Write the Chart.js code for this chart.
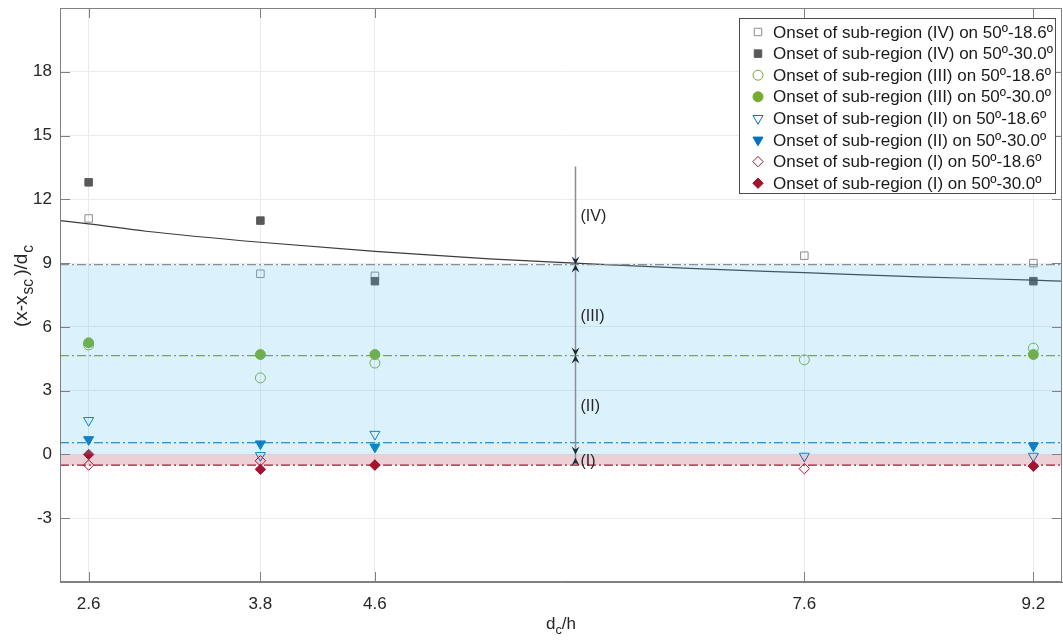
<!DOCTYPE html>
<html>
<head>
<meta charset="utf-8">
<script src="https://cdn.jsdelivr.net/npm/chart.js@4.4.0/dist/chart.umd.min.js"></script>
<style>
  html, body { margin: 0; padding: 0; background: #fff; }
</style>
</head>
<body>
<canvas id="grafico" width="1063" height="641"></canvas>
<script>
const xTicks = [2.6, 3.8, 4.6, 7.6, 9.2];
const yTicks = [-3, 0, 3, 6, 9, 12, 15, 18];
const xRange = [2.4, 9.4];
const yRange = [-6, 21];

// 50º-18.6º has a run at every d_c/h, 50º-30.0º has none at 7.6
const xOpen = [2.6, 3.8, 4.6, 7.6, 9.2];
const xFilled = [2.6, 3.8, 4.6, 9.2];

const iv186 = [11.1, 8.5, 8.4, 9.35, 9.0];
const iv300 = [12.8, 11.0, 8.15, 8.15];
const iii186 = [5.15, 3.6, 4.3, 4.45, 5.0];
const iii300 = [5.25, 4.7, 4.7, 4.7];
const ii186 = [1.6, -0.05, 0.95, -0.08, -0.08];
const ii300 = [0.7, 0.5, 0.35, 0.4];
const i186 = [-0.5, -0.3, -0.5, -0.67, -0.55];
const i300 = [0.0, -0.7, -0.5, -0.55];

// boundary curve of sub-region (IV)
const curveX = [2.4, 2.6, 3.0, 3.8, 4.6, 5.4, 6.0, 6.8, 7.6, 8.4, 9.2, 9.4];
const curveY = [11.0, 10.85, 10.5, 9.98, 9.55, 9.2, 9.0, 8.75, 8.55, 8.35, 8.2, 8.15];

// mean onset levels (dash-dot lines)
const levelIV = 8.93, levelIII = 4.65, levelII = 0.55, levelI = -0.5;

// arrow annotation
const arrowX = 6.0;
const arrowTop = 13.55;
const arrowDownTips = [8.93, 4.65, 0.0];
const arrowUpTips = [8.93, 4.65, -0.15];
const regionLabels = ["(IV)", "(III)", "(II)", "(I)"];
const regionLabelY = [11.2, 6.5, 2.25, -0.33];

const FONT = "'Liberation Sans', Arial, sans-serif";

const series = [
  { label: "Onset of sub-region (IV) on 50º-18.6º", xs: xOpen, ys: iv186, style: "rect", r: 5.3, color: "#8c8c8c", filled: false },
  { label: "Onset of sub-region (IV) on 50º-30.0º", xs: xFilled, ys: iv300, style: "rect", r: 5.3, color: "#595959", filled: true },
  { label: "Onset of sub-region (III) on 50º-18.6º", xs: xOpen, ys: iii186, style: "circle", r: 5, color: "#77ac30", filled: false },
  { label: "Onset of sub-region (III) on 50º-30.0º", xs: xFilled, ys: iii300, style: "circle", r: 5, color: "#77ac30", filled: true },
  { label: "Onset of sub-region (II) on 50º-18.6º", xs: xOpen, ys: ii186, style: "triangle", r: 5.8, rot: 180, color: "#0072bd", filled: false },
  { label: "Onset of sub-region (II) on 50º-30.0º", xs: xFilled, ys: ii300, style: "triangle", r: 5.8, rot: 180, color: "#0072bd", filled: true },
  { label: "Onset of sub-region (I) on 50º-18.6º", xs: xOpen, ys: i186, style: "rectRot", r: 5.2, color: "#a2142f", filled: false },
  { label: "Onset of sub-region (I) on 50º-30.0º", xs: xFilled, ys: i300, style: "rectRot", r: 5.2, color: "#a2142f", filled: true }
];

// markers should not push the plot box in from the canvas edge
if (Chart.ScatterController) Chart.ScatterController.prototype.getMaxOverflow = () => 0;

const pts = (xs, ys) => xs.map((x, i) => ({ x: x, y: ys[i] }));
const hline = v => [{ x: xRange[0], y: v }, { x: xRange[1], y: v }];

const datasets = series.map(s => ({
  label: s.label,
  data: pts(s.xs, s.ys),
  showLine: false,
  pointStyle: s.style,
  pointRotation: s.rot || 0,
  pointRadius: s.r,
  pointBackgroundColor: s.filled ? s.color : "rgba(0,0,0,0)",
  pointBorderColor: s.color,
  pointBorderWidth: 1,
  order: s.filled ? 5 : 6
}));

datasets.push({
  data: pts(curveX, curveY),
  showLine: true, pointRadius: 0,
  borderColor: "#3c3c3c", borderWidth: 1.2,
  cubicInterpolationMode: "monotone",
  order: 4
});

// shaded bands drawn over the markers, like the reference
datasets.push({
  data: hline(levelIV), showLine: true, pointRadius: 0,
  borderColor: "rgba(0,0,0,0)", fill: { value: 0 },
  backgroundColor: "rgba(77,190,238,0.2)", order: 3
});
datasets.push({
  data: hline(levelI), showLine: true, pointRadius: 0,
  borderColor: "rgba(0,0,0,0)", fill: { value: 0 },
  backgroundColor: "rgba(162,20,47,0.2)", order: 3
});

[[levelIV, "#8f8f8f"], [levelIII, "#77ac30"], [levelII, "#0072bd"], [levelI, "#a2142f"]].forEach(l => {
  datasets.push({
    data: hline(l[0]), showLine: true, pointRadius: 0,
    borderColor: l[1], borderWidth: 1.2, borderDash: [9, 3, 2, 3],
    fill: false, order: 2
  });
});

function marker(ctx, s, x, y) {
  const r = s.r;
  ctx.beginPath();
  if (s.style === "rect") {
    const h = r * Math.SQRT1_2;
    ctx.rect(x - h, y - h, 2 * h, 2 * h);
  } else if (s.style === "circle") {
    ctx.arc(x, y, r, 0, Math.PI * 2);
  } else if (s.style === "triangle") {
    const w = r * Math.sin(Math.PI / 3);
    ctx.moveTo(x, y + r);
    ctx.lineTo(x - w, y - r / 2);
    ctx.lineTo(x + w, y - r / 2);
    ctx.closePath();
  } else {
    ctx.moveTo(x, y - r);
    ctx.lineTo(x + r, y);
    ctx.lineTo(x, y + r);
    ctx.lineTo(x - r, y);
    ctx.closePath();
  }
  ctx.lineWidth = 1;
  ctx.strokeStyle = s.color;
  if (s.filled) { ctx.fillStyle = s.color; ctx.fill(); }
  ctx.stroke();
}

// parts: [text, isSubscript, gapAfter]
function subText(ctx, parts, x, y, size, subScale) {
  const fontOf = p => (p[1] ? size * subScale : size) + "px " + FONT;
  let total = 0;
  parts.forEach(p => {
    ctx.font = fontOf(p);
    total += ctx.measureText(p[0]).width + (p[2] || 0);
  });
  let cx = x - total / 2;
  parts.forEach(p => {
    ctx.font = fontOf(p);
    ctx.fillText(p[0], cx, p[1] ? y + size * 0.32 : y);
    cx += ctx.measureText(p[0]).width + (p[2] || 0);
  });
}

function arrowHead(ctx, x, yTip, dir) {
  const L = 8, W = 4, notch = 3;
  ctx.beginPath();
  ctx.moveTo(x, yTip);
  ctx.lineTo(x - W, yTip - dir * L);
  ctx.lineTo(x, yTip - dir * (L - notch));
  ctx.lineTo(x + W, yTip - dir * L);
  ctx.closePath();
  ctx.fill();
}

const extras = {
  id: "extras",
  afterDraw(chart) {
    const ctx = chart.ctx, a = chart.chartArea;
    const sx = chart.scales.x, sy = chart.scales.y;
    ctx.save();

    // box and inward ticks
    ctx.strokeStyle = "#808080";
    ctx.lineWidth = 1;
    ctx.strokeRect(a.left + 0.5, a.top + 0.5, a.right - a.left - 1, a.bottom - a.top - 1);
    ctx.beginPath();
    xTicks.forEach(v => {
      const px = Math.round(sx.getPixelForValue(v)) + 0.5;
      ctx.moveTo(px, a.bottom); ctx.lineTo(px, a.bottom - 10);
      ctx.moveTo(px, a.top); ctx.lineTo(px, a.top + 10);
    });
    yTicks.forEach(v => {
      const py = Math.round(sy.getPixelForValue(v)) + 0.5;
      ctx.moveTo(a.left, py); ctx.lineTo(a.left + 10, py);
      ctx.moveTo(a.right, py); ctx.lineTo(a.right - 10, py);
    });
    ctx.stroke();

    // arrow
    const ax = Math.round(sx.getPixelForValue(arrowX)) + 0.5;
    ctx.strokeStyle = "#8a8f94";
    ctx.lineWidth = 1.5;
    ctx.beginPath();
    ctx.moveTo(ax, sy.getPixelForValue(arrowTop));
    ctx.lineTo(ax, sy.getPixelForValue(levelI));
    ctx.stroke();
    ctx.fillStyle = "#1c2a33";
    arrowDownTips.forEach(v => arrowHead(ctx, ax, sy.getPixelForValue(v), 1));
    arrowUpTips.forEach(v => arrowHead(ctx, ax, sy.getPixelForValue(v), -1));

    ctx.fillStyle = "#262626";
    ctx.font = "16px " + FONT;
    ctx.textAlign = "left";
    ctx.textBaseline = "middle";
    regionLabels.forEach((t, i) => {
      ctx.fillText(t, ax + 5, sy.getPixelForValue(regionLabelY[i]));
    });

    // axis titles
    ctx.fillStyle = "#262626";
    ctx.textBaseline = "alphabetic";
    subText(ctx, [["d"], ["c", true], ["/h"]], (a.left + a.right) / 2, 629, 17, 0.75);
    ctx.save();
    ctx.translate(27, 286);
    ctx.rotate(-Math.PI / 2);
    subText(ctx, [["(x-x", false, 1], ["sc", true, 3], [")/d", false, 1], ["c", true]], 0, 0, 19, 0.82);
    ctx.restore();

    // legend
    const lx = 739.5, ly = 18.5, lw = 316, lh = 175;
    ctx.fillStyle = "#fff";
    ctx.fillRect(lx, ly, lw, lh);
    ctx.strokeStyle = "#4d4d4d";
    ctx.lineWidth = 1;
    ctx.strokeRect(lx, ly, lw, lh);
    series.forEach((s, i) => {
      const y = 32 + i * 21.6;
      marker(ctx, s, 758, y);
      ctx.fillStyle = "#1a1a1a";
      ctx.font = "17px " + FONT;
      ctx.textBaseline = "middle";
      ctx.textAlign = "left";
      ctx.fillText(s.label, 773, y + 1);
    });
    ctx.restore();
  }
};

new Chart(document.getElementById("grafico"), {
  type: "scatter",
  data: { datasets: datasets },
  options: {
    responsive: false,
    animation: false,
    devicePixelRatio: 1,
    layout: { padding: { top: 8, right: 1, left: 0, bottom: 0 } },
    plugins: {
      legend: { display: false },
      tooltip: { enabled: false },
      filler: { drawTime: "beforeDatasetDraw" }
    },
    scales: {
      x: {
        type: "linear", min: xRange[0], max: xRange[1],
        afterBuildTicks: s => { s.ticks = xTicks.map(v => ({ value: v })); },
        afterFit: s => { s.height = 59; s.paddingLeft = 0; s.paddingRight = 0; },
        grid: { color: "#ebebeb", drawTicks: false },
        border: { color: "#808080" },
        ticks: {
          font: { family: FONT, size: 17 }, color: "#262626",
          padding: 12, maxRotation: 0, autoSkip: false,
          callback: v => String(v)
        }
      },
      y: {
        type: "linear", min: yRange[0], max: yRange[1],
        afterBuildTicks: s => { s.ticks = yTicks.map(v => ({ value: v })); },
        afterFit: s => { s.width = 60; s.paddingTop = 0; s.paddingBottom = 0; },
        grid: { color: "#ebebeb", drawTicks: false },
        border: { color: "#808080" },
        ticks: {
          font: { family: FONT, size: 17 }, color: "#262626",
          padding: 8, autoSkip: false,
          callback: v => String(v)
        }
      }
    }
  },
  plugins: [extras]
});
</script>
</body>
</html>
